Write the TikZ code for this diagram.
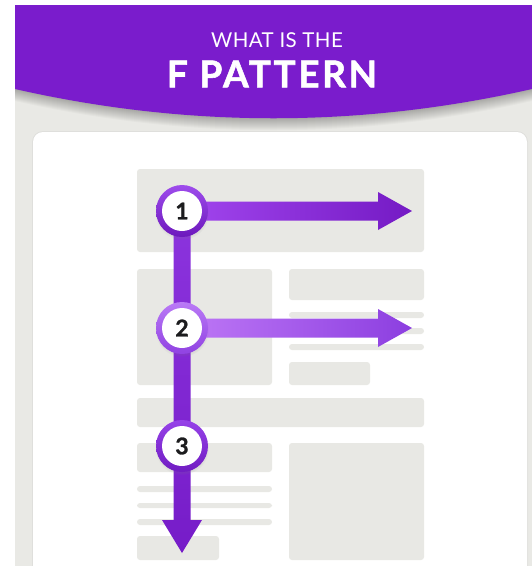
\documentclass[tikz,border=0pt]{standalone}
\usepackage{fontspec}
\setmainfont{Lato}
\usetikzlibrary{calc,shadows}

\definecolor{bannerpurple}{RGB}{122,28,204}
\definecolor{pagegrey}{RGB}{233,233,229}
\definecolor{blockgrey}{RGB}{232,232,228}
\definecolor{numink}{RGB}{28,28,30}

\tikzset{
  block/.style={fill=blockgrey, rounded corners=3pt},
  ring/.style={circle, minimum size=52pt, inner sep=0pt,
    circular drop shadow={shadow xshift=0pt, shadow yshift=-2pt, opacity=0.18, shadow scale=1.04}},
  numdisc/.style={circle, minimum size=40pt, inner sep=0pt, fill=white, text=numink,
    font=\fontsize{23}{24}\selectfont\bfseries\addfontfeatures{FakeBold=1.2}},
}

\begin{document}
\begin{tikzpicture}[x=1pt,y=-1pt]
\useasboundingbox (0,0) rectangle (532,566);

% page background
\fill[pagegrey] (15,5) rectangle (532,566);

% soft shadow under the curved banner
\foreach \d in {1,...,12}{
  \fill[black, opacity=0.025] (15,5) -- (15,89+\d)
    .. controls (187,128+\d) and (360,128+\d) .. (532,89+\d) -- (532,5) -- cycle;
}
% banner
\fill[bannerpurple] (15,5) -- (15,89)
  .. controls (187,128) and (360,128) .. (532,89) -- (532,5) -- cycle;

\node[text=white, font=\fontsize{20.5}{24}\selectfont\addfontfeatures{LetterSpace=2}] (kicker) at (277,40) {WHAT IS THE};
\node[text=white, font=\fontsize{37}{40}\selectfont\bfseries\addfontfeatures{LetterSpace=7,FakeBold=1.5}] (title) at (272,74) {F PATTERN};

% content card
\fill[black, opacity=0.04, rounded corners=11pt] (32,131) rectangle (528,590);
\fill[white, rounded corners=10pt] (33,132) rectangle (527,590);

% wireframe blocks
\fill[block] (137,169) rectangle (424,252);
\fill[block] (137,269) rectangle (272,385);
\fill[block] (289,269) rectangle (424,300);
\fill[block] (289,312) rectangle (424,318);
\fill[block] (289,328) rectangle (424,334);
\fill[block] (289,344) rectangle (424,350);
\fill[block] (289,362) rectangle (370,385);
\fill[block] (137,398) rectangle (424,427);
\fill[block] (137,443) rectangle (272,472);
\fill[block] (289,443) rectangle (424,560);
\fill[block] (137,486) rectangle (272,492);
\fill[block] (137,503) rectangle (272,508);
\fill[block] (137,519) rectangle (272,525);
\fill[block] (137,536) rectangle (219,560);

% step markers (rings drawn later on top)
\coordinate (p1) at (182,211);
\coordinate (p2) at (182,328);
\coordinate (p3) at (182,446);
\coordinate (downtip) at (182,553);
\coordinate (tip1) at (412,211);
\coordinate (tip2) at (412,328);

% vertical stroke of the F, ending in a downward arrow
\shade[top color={rgb,255:red,140;green,52;blue,222}, bottom color={rgb,255:red,118;green,28;blue,200}]
  ($(p1)+(-8.5,0)$) -- ($(p1)+(8.5,0)$) -- ($(downtip)+(8.5,-33)$) -- ($(downtip)+(20,-33)$)
  -- (downtip) -- ($(downtip)+(-20,-33)$) -- ($(downtip)+(-8.5,-33)$) -- cycle;

% first horizontal arrow
\shade[left color={rgb,255:red,162;green,70;blue,238}, right color={rgb,255:red,116;green,26;blue,196}]
  ($(p1)+(0,-9.5)$) -- ($(tip1)+(-34,-9.5)$) -- ($(tip1)+(-34,-19)$) -- (tip1)
  -- ($(tip1)+(-34,19)$) -- ($(tip1)+(-34,9.5)$) -- ($(p1)+(0,9.5)$) -- cycle;

% second horizontal arrow
\shade[left color={rgb,255:red,190;green,120;blue,246}, right color={rgb,255:red,140;green,62;blue,224}]
  ($(p2)+(0,-9.5)$) -- ($(tip2)+(-34,-9.5)$) -- ($(tip2)+(-34,-19)$) -- (tip2)
  -- ($(tip2)+(-34,19)$) -- ($(tip2)+(-34,9.5)$) -- ($(p2)+(0,9.5)$) -- cycle;

% numbered rings
\node[ring, top color={rgb,255:red,158;green,76;blue,236}, bottom color={rgb,255:red,108;green,24;blue,188}] (c1) at (p1) {};
\node[numdisc] (n1) at (c1) {1};
\node[ring, top color={rgb,255:red,186;green,122;blue,246}, bottom color={rgb,255:red,144;green,66;blue,226}] (c2) at (p2) {};
\node[numdisc] (n2) at (c2) {2};
\node[ring, top color={rgb,255:red,150;green,66;blue,232}, bottom color={rgb,255:red,112;green,28;blue,194}] (c3) at (p3) {};
\node[numdisc] (n3) at (c3) {3};
\end{tikzpicture}
\end{document}
